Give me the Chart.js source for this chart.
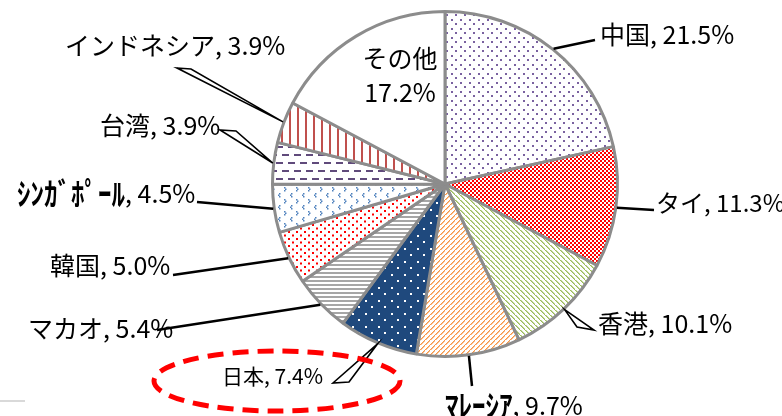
<!DOCTYPE html>
<html>
<head>
<meta charset="utf-8">
<script src="https://cdn.jsdelivr.net/npm/chart.js@4/dist/chart.umd.min.js"></script>
<style>
  html, body { margin: 0; padding: 0; background: #fff; }
  #wrap { position: relative; width: 782px; height: 416px; }
</style>
</head>
<body>
<div id="wrap"><canvas id="myChart" width="782" height="416"></canvas></div>
<script>
// share by country / region (%)
const categories = ['中国', 'タイ', '香港', 'ﾏﾚｰｼｱ', '日本', 'マカオ', '韓国', 'ｼﾝｶﾞﾎﾟｰﾙ', '台湾', 'インドネシア', 'その他'];
const shares = [21.5, 11.3, 10.1, 9.7, 7.4, 5.4, 5.0, 4.5, 3.9, 3.9, 17.2];

// label placement: text left edge / middle, leader style, leader end
const labelLayout = [
    { tx: 600, ty: 34, style: 'line', ex: 595, ey: 40 },
    { tx: 656, ty: 203, style: 'line', ex: 654, ey: 210, size: 24 },
    { tx: 598, ty: 323, style: 'wedge', ex: 594, ey: 330, wx: 577, wy: 327 },
    { tx: 445, ty: 405, style: 'line', ex: 472, ey: 386 },
    { tx: 222, ty: 376, style: 'wedge', ex: 333, ey: 383, wx: 349, wy: 382, size: 21 },
    { tx: 28, ty: 328, style: 'line', ex: 157, ey: 330 },
    { tx: 50, ty: 265, style: 'line', ex: 173, ey: 275 },
    { tx: 17, ty: 193, style: 'line', ex: 197, ey: 202 },
    { tx: 100, ty: 125, style: 'wedge', ex: 220, ey: 130, wx: 236, wy: 131 },
    { tx: 65, ty: 45, style: 'wedge', ex: 177, ey: 68, wx: 191, wy: 69 },
    { tx: 400, ty: 58, style: 'inside' }
];

function tile(w, h, bg, draw) {
    const c = document.createElement('canvas');
    c.width = w;
    c.height = h;
    const g = c.getContext('2d');
    g.fillStyle = bg;
    g.fillRect(0, 0, w, h);
    draw(g);
    return c;
}

const tiles = [
    // purple dots
    tile(9, 9, '#fff', g => { g.fillStyle = '#7a62a0'; g.fillRect(1, 1, 2, 2); g.fillRect(5, 5, 2, 2); }),
    // red checker
    tile(4, 4, '#fff', g => { g.fillStyle = '#ff0000'; g.fillRect(0, 0, 2, 2); g.fillRect(2, 2, 2, 2); }),
    // green back-diagonal
    tile(5, 5, '#fff', g => { g.fillStyle = '#9bbb59'; for (let i = 0; i < 5; i++) g.fillRect(i, i, 1.6, 1); }),
    // orange forward-diagonal
    tile(5, 5, '#fff', g => { g.fillStyle = '#f79646'; for (let i = 0; i < 5; i++) g.fillRect(4 - i, i, 1.6, 1); }),
    // navy with white dots
    tile(13, 13, '#1f497d', g => { g.fillStyle = '#fff'; g.fillRect(1, 1, 2, 2); g.fillRect(7, 7, 2, 2); }),
    // grey horizontal lines
    tile(4, 4, '#fff', g => { g.fillStyle = '#a6a6a6'; g.fillRect(0, 0, 4, 2); }),
    // red dots
    tile(8, 7, '#fff', g => { g.fillStyle = '#ff0000'; g.fillRect(0, 0, 2, 2); g.fillRect(4, 3.5, 2, 2); }),
    // blue chevrons
    tile(12, 12, '#fff', g => {
        g.fillStyle = '#4f81bd';
        g.fillRect(3, 1, 1.5, 1.5); g.fillRect(2, 2.5, 1.5, 1.5); g.fillRect(3, 4, 1.5, 1.5);
        g.fillRect(8, 7, 1.5, 1.5); g.fillRect(9, 8.5, 1.5, 1.5); g.fillRect(8, 10, 1.5, 1.5);
    }),
    // purple dashes
    tile(12, 16, '#fff', g => { g.fillStyle = '#604a7b'; g.fillRect(0, 2, 7, 2); g.fillRect(6, 10, 7, 2); g.fillRect(-6, 10, 7, 2); }),
    // red vertical lines
    tile(8, 4, '#fff', g => { g.fillStyle = '#c0504d'; g.fillRect(1, 0, 2, 4); }),
    null
];

const canvas = document.getElementById('myChart');
const ctx = canvas.getContext('2d');
const fills = tiles.map(t => t ? ctx.createPattern(t, 'repeat') : '#ffffff');

const font = '"Noto Sans CJK JP", "Noto Sans", sans-serif';
const halfKana = /[\uFF61-\uFF9F]/;

// names in half-width kana come out tiny, so stretch them a little
function drawName(c, name, x, y, size) {
    if (!halfKana.test(name)) {
        c.font = size + 'px ' + font;
        c.fillText(name, x, y);
        return c.measureText(name).width;
    }
    c.save();
    c.font = 'bold ' + size + 'px ' + font;
    c.translate(x, y);
    c.scale(1.08, 1.22);
    c.fillText(name, 0, 0);
    const w = c.measureText(name).width * 1.08;
    c.restore();
    return w;
}

const labelsPlugin = {
    id: 'sliceLabels',
    afterDraw(chart) {
        const c = chart.ctx;
        const arcs = chart.getDatasetMeta(0).data;
        c.save();
        c.textBaseline = 'middle';
        arcs.forEach((arc, i) => {
            const L = labelLayout[i];
            const val = shares[i];
            if (L.style === 'inside') {
                c.fillStyle = '#000';
                c.textAlign = 'center';
                c.font = '25px ' + font;
                c.fillText(categories[i], L.tx, L.ty);
                c.fillText(val.toFixed(1) + '%', L.tx, L.ty + 34);
                return;
            }
            const mid = (arc.startAngle + arc.endAngle) / 2;
            const px = arc.x + Math.cos(mid) * (arc.outerRadius + 1);
            const py = arc.y + Math.sin(mid) * (arc.outerRadius + 1);
            c.strokeStyle = '#000';
            c.lineWidth = 2.5;
            if (L.style === 'line') {
                c.beginPath();
                c.moveTo(px, py);
                c.lineTo(L.ex, L.ey);
                c.stroke();
            } else {
                c.lineWidth = 1.6;
                c.fillStyle = '#fff';
                c.beginPath();
                c.moveTo(px, py);
                c.lineTo(L.ex, L.ey);
                c.lineTo(L.wx, L.wy);
                c.closePath();
                c.fill();
                c.stroke();
            }
            c.fillStyle = '#000';
            c.textAlign = 'left';
            const size = L.size || 25;
            const w = drawName(c, categories[i], L.tx, L.ty, size);
            c.font = size + 'px ' + font;
            c.fillText(', ' + val.toFixed(1) + '%', L.tx + w, L.ty);
        });

        // dashed emphasis ring round the 日本 label
        c.strokeStyle = '#ff0000';
        c.lineWidth = 5;
        c.setLineDash([16, 9]);
        c.beginPath();
        c.ellipse(277, 381, 123, 30, 0, 0, Math.PI * 2);
        c.stroke();
        c.setLineDash([]);

        c.strokeStyle = '#d9d9d9';
        c.lineWidth = 2;
        c.beginPath();
        c.moveTo(0, 401);
        c.lineTo(25, 401);
        c.stroke();
        c.restore();
    }
};

const data = {
    labels: categories,
    datasets: [{
        data: shares,
        backgroundColor: fills,
        borderColor: '#8c8c8c',
        borderWidth: 3
    }]
};

const config = {
    type: 'pie',
    data: data,
    options: {
        responsive: false,
        animation: false,
        layout: { padding: { left: 271, top: 10, right: 163, bottom: 58 } },
        plugins: {
            legend: { display: false },
            tooltip: { enabled: false }
        }
    },
    plugins: [labelsPlugin]
};

const myChart = new Chart(canvas, config);
</script>
</body>
</html>
